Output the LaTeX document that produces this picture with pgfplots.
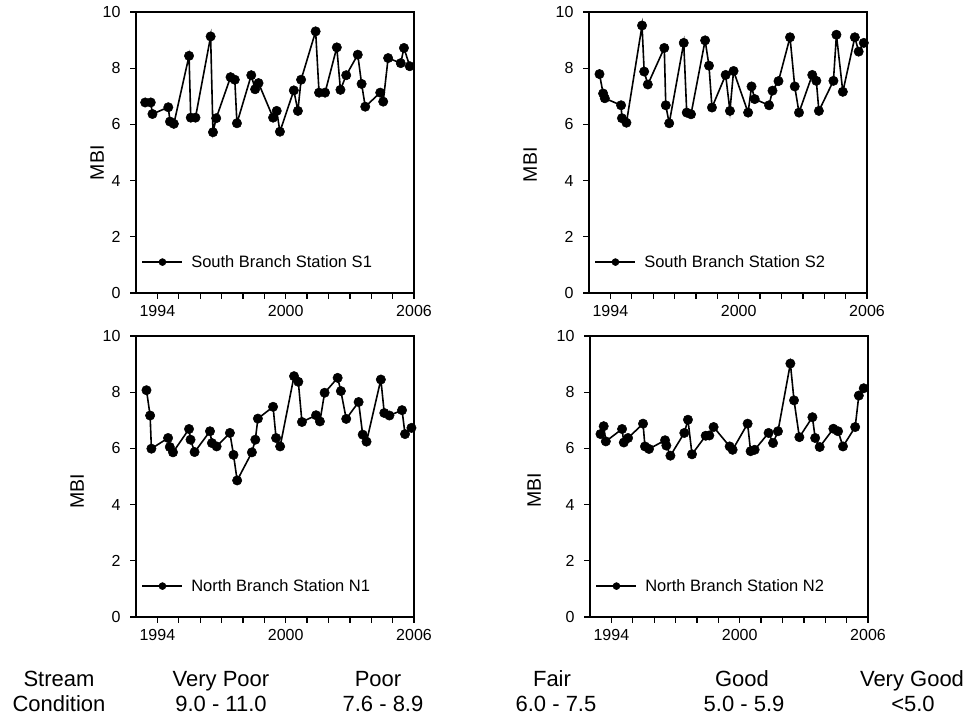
\documentclass[border=0pt]{standalone}
\usepackage{fontspec}
\setmainfont{Liberation Sans}
\usepackage{pgfplots}
\pgfplotsset{compat=1.18}
\pgfplotstableread{
x y
1993.43 6.78
1993.69 6.78
1993.77 6.37
1994.51 6.61
1994.59 6.10
1994.77 6.02
1995.48 8.44
1995.56 6.24
1995.78 6.24
1996.49 9.13
1996.60 5.72
1996.75 6.22
1997.42 7.68
1997.62 7.59
1997.72 6.04
1998.39 7.75
1998.57 7.25
1998.73 7.47
1999.41 6.24
1999.58 6.48
1999.73 5.74
2000.38 7.21
2000.57 6.48
2000.72 7.59
2001.40 9.31
2001.56 7.13
2001.84 7.13
2002.39 8.74
2002.56 7.23
2002.83 7.75
2003.37 8.48
2003.55 7.44
2003.72 6.63
2004.42 7.13
2004.56 6.81
2004.79 8.36
2005.38 8.18
2005.53 8.72
2005.80 8.07
}\dataSone
\pgfplotstableread{
x y
1993.49 7.79
1993.66 7.10
1993.74 6.93
1994.50 6.68
1994.54 6.22
1994.75 6.06
1995.48 9.52
1995.58 7.88
1995.75 7.42
1996.52 8.72
1996.59 6.68
1996.75 6.04
1997.43 8.90
1997.57 6.42
1997.77 6.36
1998.43 8.99
1998.61 8.09
1998.75 6.60
1999.39 7.76
1999.59 6.48
1999.76 7.90
2000.44 6.42
2000.60 7.35
2000.75 6.90
2001.42 6.68
2001.58 7.20
2001.86 7.54
2002.40 9.10
2002.62 7.35
2002.82 6.42
2003.44 7.76
2003.63 7.55
2003.75 6.48
2004.43 7.55
2004.57 9.19
2004.87 7.16
2005.43 9.10
2005.61 8.59
2005.85 8.90
}\dataStwo
\pgfplotstableread{
x y
1993.49 8.07
1993.66 7.17
1993.72 5.99
1994.50 6.37
1994.58 6.05
1994.73 5.86
1995.48 6.69
1995.55 6.31
1995.74 5.87
1996.46 6.61
1996.55 6.19
1996.77 6.07
1997.39 6.55
1997.56 5.77
1997.73 4.86
1998.42 5.86
1998.58 6.31
1998.70 7.06
1999.41 7.48
1999.55 6.37
1999.74 6.07
2000.39 8.57
2000.59 8.37
2000.76 6.94
2001.42 7.18
2001.60 6.96
2001.82 7.98
2002.43 8.51
2002.58 8.04
2002.83 7.05
2003.41 7.65
2003.60 6.49
2003.78 6.24
2004.45 8.45
2004.61 7.26
2004.85 7.17
2005.44 7.36
2005.58 6.51
2005.88 6.73
}\dataNone
\pgfplotstableread{
x y
1993.49 6.51
1993.64 6.79
1993.74 6.25
1994.50 6.69
1994.58 6.21
1994.78 6.37
1995.48 6.88
1995.57 6.07
1995.76 5.98
1996.51 6.29
1996.57 6.10
1996.76 5.74
1997.41 6.55
1997.58 7.02
1997.77 5.79
1998.41 6.45
1998.58 6.46
1998.78 6.76
1999.53 6.07
1999.67 5.95
2000.37 6.88
2000.51 5.90
2000.70 5.95
2001.35 6.55
2001.56 6.19
2001.79 6.61
2002.37 9.02
2002.54 7.71
2002.79 6.40
2003.40 7.11
2003.53 6.37
2003.74 6.05
2004.38 6.70
2004.60 6.61
2004.83 6.07
2005.40 6.76
2005.57 7.88
2005.80 8.14
}\dataNtwo
\pgfplotsset{
  panel/.style 2 args={
    scale only axis, width=278pt, height=281pt,
    xmin=1993, xmax=2006, ymin=0, ymax=10,
    xtick={1994,2000,2006}, minor xtick={1995,1996,1997,1998,1999,2001,2002,2003,2004,2005},
    ytick={0,2,4,6,8,10},
    xtick pos=bottom, ytick pos=left,
    tick align=outside,
    major tick length=6pt, minor tick length=6pt,
    every tick/.style={black, line width=1.3pt},
    minor tick style={black, line width=1.3pt},
    axis line style={line width=2.4pt},
    xticklabel style={font=\fontsize{16}{19}\selectfont, /pgf/number format/1000 sep={}, yshift=-3pt},
    yticklabel style={font=\fontsize{16}{19}\selectfont, xshift=-6pt},
    /pgf/number format/assume math mode=true,
    every axis y label/.style={at={(rel axis cs:#1,#2)}, rotate=90, anchor=center,
      font=\fontsize{19.5}{22}\selectfont, inner sep=0pt},
    ylabel={MBI},
    legend style={draw=none, fill=none, at={(rel axis cs:0.016,0.11)}, anchor=west,
      font=\fontsize{16.5}{19}\selectfont, inner sep=1pt},
    legend cell align=left,
    legend image code/.code={
      \draw[line width=1.3pt] (0pt,0pt) -- (40pt,0pt);
      \draw[mark=*, mark size=3.5pt, mark repeat=2, mark phase=2]
        plot coordinates {(0pt,0pt)(20pt,0pt)(40pt,0pt)};
      \path (46pt,0pt);
    },
  },
  dataline/.style={black, line width=1.6pt, mark=*, mark size=4.7pt, mark options={fill=black, line width=0.5pt}},
}
\begin{document}
\begin{tikzpicture}[x=1pt,y=1pt]
\useasboundingbox (0,0) rectangle (971,719);
\begin{axis}[panel={-0.140}{0.463}, at={(136pt,426pt)}, anchor=south west]
\addplot[dataline] table[x=x,y=y] {\dataSone};
\addlegendentry{South Branch Station S1}
\end{axis}
\begin{axis}[panel={-0.212}{0.456}, at={(589pt,426pt)}, anchor=south west]
\addplot[dataline] table[x=x,y=y] {\dataStwo};
\addlegendentry{South Branch Station S2}
\end{axis}
\begin{axis}[panel={-0.212}{0.448}, at={(136pt,102pt)}, anchor=south west]
\addplot[dataline] table[x=x,y=y] {\dataNone};
\addlegendentry{North Branch Station N1}
\end{axis}
\begin{axis}[panel={-0.201}{0.452}, at={(590pt,102pt)}, anchor=south west]
\addplot[dataline] table[x=x,y=y] {\dataNtwo};
\addlegendentry{North Branch Station N2}
\end{axis}
\begin{scope}[every node/.style={font=\fontsize{22}{26}\selectfont, anchor=base, inner sep=0pt}]
\node at (59,32) {Stream};
\node at (59,7) {Condition};
\node at (221,32) {Very Poor};
\node at (221,7) {9.0 - 11.0};
\node at (378,32) {Poor};
\node at (383,7) {7.6 - 8.9};
\node at (552,32) {Fair};
\node at (556,7) {6.0 - 7.5};
\node at (742,32) {Good};
\node at (744,7) {5.0 - 5.9};
\node at (912,32) {Very Good};
\node at (913,7) {<5.0};
\end{scope}
\end{tikzpicture}
\end{document}
